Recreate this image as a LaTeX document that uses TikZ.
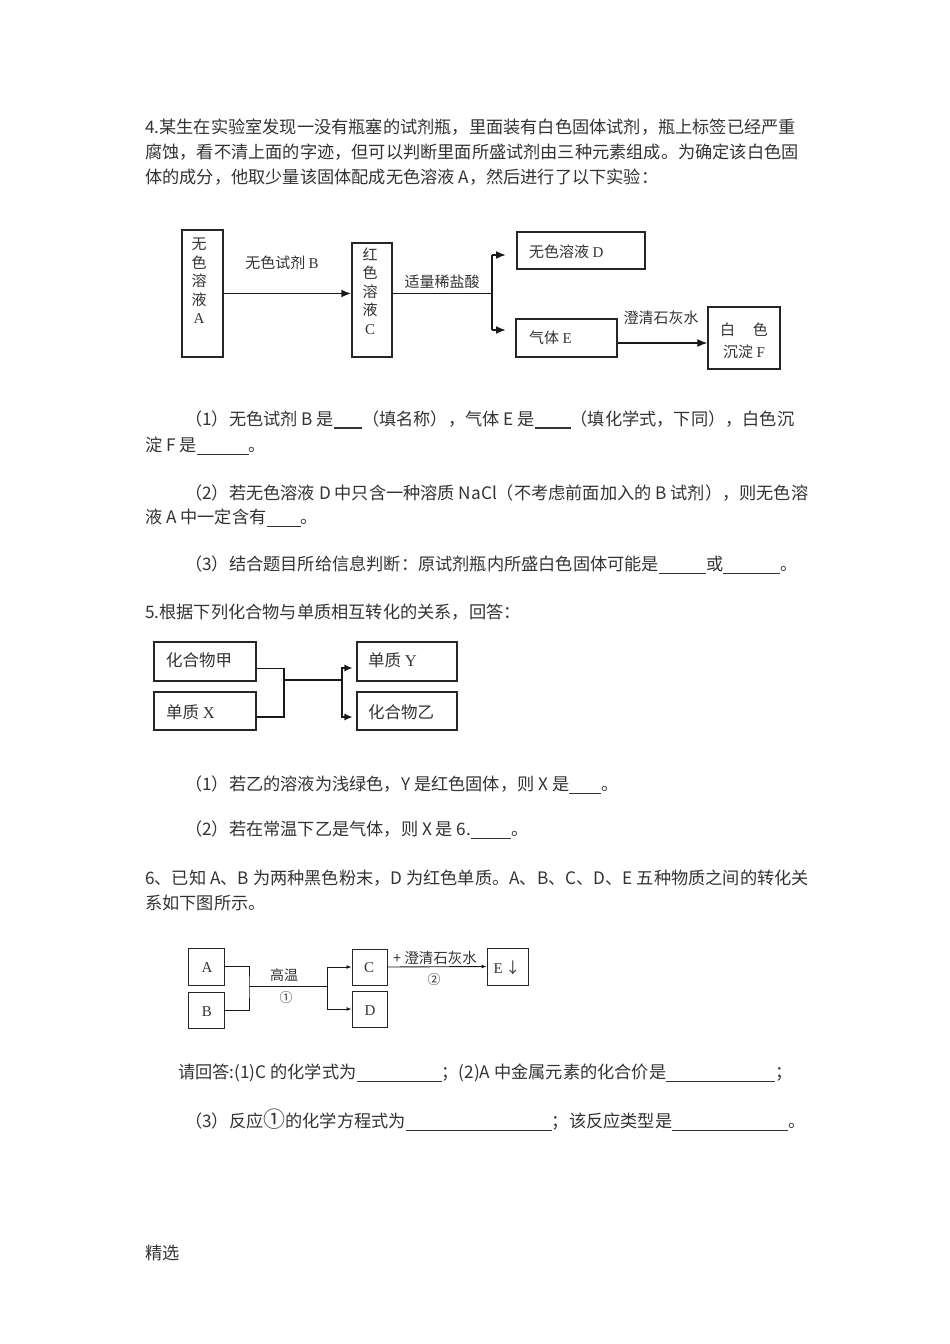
\documentclass[tikz,border=0pt]{standalone}
\usepackage{fontspec}
\setmainfont{Noto Sans CJK SC}
\newfontfamily\latf{Liberation Serif}
\usetikzlibrary{arrows.meta}

\newcommand{\bodyfont}{\fontsize{17.2}{20}\selectfont}
\newcommand{\figfont}{\fontsize{15}{18.5}\selectfont}
\newcommand{\blank}[1]{\rule[-3pt]{#1pt}{0.8pt}}
\newcommand{\bblank}[1]{\rule[-3pt]{#1pt}{1.8pt}}

\tikzset{
  txt/.style={anchor=west, inner sep=0pt, font=\bodyfont, text=black!80},
  dtxt/.style={inner sep=0pt, font=\figfont, text=black!80, align=center},
  box/.style={draw=black!85, inner sep=0pt},
  lnA/.style={draw=black!90, line width=1.8pt},
  arrA/.style={lnA, -{Latex[length=10pt,width=8pt]}},
  lnB/.style={draw=black!90, line width=1.2pt},
  arrB/.style={lnB, -{Latex[length=8pt,width=7pt]}},
  lnC/.style={draw=black!90, line width=0.9pt},
  arrC/.style={lnC, -{Latex[length=5pt,width=4pt]}}
}

\begin{document}
\begin{tikzpicture}[x=1pt,y=1pt,yscale=-1,xscale=1]
\fill[white] (0,0) rectangle (950,1344);
\path[use as bounding box] (0,0) rectangle (950,1344);

%Text: question 4
\node[txt] (q4a) at (145,127) {4.某生在实验室发现一没有瓶塞的试剂瓶，里面装有白色固体试剂，瓶上标签已经严重};
\node[txt] (q4b) at (145,152) {腐蚀，看不清上面的字迹，但可以判断里面所盛试剂由三种元素组成。为确定该白色固};
\node[txt] (q4c) at (145,177) {体的成分，他取少量该固体配成无色溶液 A，然后进行了以下实验：};

%Shape: Rectangle, solutions A and C
\node[box, line width=1.5pt, minimum width=41pt, minimum height=127pt] (bA) at (202.5,293.5) {};
\node[dtxt] (tA) at (199,281) {无\\色\\溶\\液\\{\latf A}};
\node[box, line width=1.5pt, minimum width=40pt, minimum height=114pt] (bC) at (372,300) {};
\node[dtxt] (tC) at (370,291) {红\\色\\溶\\液\\{\latf C}};
%Shape: Rectangle, D, E and F
\node[box, line width=1.8pt, minimum width=128pt, minimum height=37pt] (bD) at (581,250.5) {};
\node[dtxt, anchor=west] (tD) at (529,252) {无色溶液 {\latf D}};
\node[box, line width=1.4pt, minimum width=101pt, minimum height=38pt] (bE) at (566.5,338) {};
\node[dtxt, anchor=west] (tE) at (529,338) {气体 {\latf E}};
\node[box, line width=1.4pt, minimum width=72pt, minimum height=62pt] (bF) at (744,338) {};
\node[dtxt] (tF) at (744,341) {白\hspace{1.2em}色\\[4pt]沉淀 {\latf F}};

%Straight Lines
\coordinate (jn1) at (492,293.5);
\coordinate (tipD) at (506,255);
\coordinate (tipE) at (506,330);
\draw[arrA] (bA.east) -- (bA.east -| bC.west);
\draw[lnA] (bC.east |- bA.east) -- (jn1);
\draw[lnA] (jn1 |- tipD) -- (jn1 |- tipE);
\draw[arrA] (jn1 |- tipD) -- (tipD);
\draw[arrA] (jn1 |- tipE) -- (tipE);
\draw[arrA, line width=1.2pt] ([yshift=5pt]bE.east) -- ([yshift=5pt]bE.east -| bF.west);
\node[dtxt] (lB) at (282,263) {无色试剂 {\latf B}};
\node[dtxt] (lHCl) at (442,282) {适量稀盐酸};
\node[dtxt] (lCa) at (661,318) {澄清石灰水};

%Text: parts of question 4
\node[txt] (q41a) at (185,420) {（1）无色试剂 B 是\bblank{28}（填名称），气体 E 是\bblank{36}（填化学式，下同），白色沉};
\node[txt] (q41b) at (145,446) {淀 F 是\blank{52}。};
\node[txt] (q42a) at (185,493) {（2）若无色溶液 D 中只含一种溶质 NaCl（不考虑前面加入的 B 试剂），则无色溶};
\node[txt] (q42b) at (145,518) {液 A 中一定含有\blank{34}。};
\node[txt] (q43) at (185,565) {（3）结合题目所给信息判断：原试剂瓶内所盛白色固体可能是\blank{47}或\blank{57}。};

%Text: question 5
\node[txt] (q5) at (145,612) {5.根据下列化合物与单质相互转化的关系，回答：};

%Shape: Rectangle, compounds and elements
\node[box, line width=1.1pt, minimum width=102pt, minimum height=39pt] (bJia) at (205,661.5) {};
\node[dtxt, anchor=west, font=\fontsize{16.5}{20}\selectfont] (tJia) at (166,660) {化合物甲};
\node[box, line width=1.1pt, minimum width=102pt, minimum height=38pt] (bX) at (205,711) {};
\node[dtxt, anchor=west, font=\fontsize{16.5}{20}\selectfont] (tX) at (166,712) {单质 {\latf X}};
\node[box, line width=1.1pt, minimum width=100pt, minimum height=39pt] (bY) at (407,661.5) {};
\node[dtxt, anchor=west, font=\fontsize{16.5}{20}\selectfont] (tY) at (368,660) {单质 {\latf Y}};
\node[box, line width=1.1pt, minimum width=100pt, minimum height=38pt] (bYi) at (407,711) {};
\node[dtxt, anchor=west, font=\fontsize{16.5}{20}\selectfont] (tYi) at (368,712) {化合物乙};

%Straight Lines
\coordinate (jn2) at (284,680);
\coordinate (jn3) at (342,680);
\draw[lnB] ([yshift=7pt]bJia.east) -| (jn2) |- ([yshift=6pt]bX.east);
\draw[lnB] (jn2) -- (jn3);
\draw[arrB] (jn3) |- ([xshift=-4pt,yshift=6.5pt]bY.west);
\draw[arrB] (jn3) |- ([xshift=-4pt,yshift=6pt]bYi.west);

%Text: parts of question 5
\node[txt] (q51) at (185,785) {（1）若乙的溶液为浅绿色，Y 是红色固体，则 X 是\blank{32}。};
\node[txt] (q52) at (185,830) {（2）若在常温下乙是气体，则 X 是 6.\blank{40}。};

%Text: question 6
\node[txt] (q6a) at (145,878) {6、已知 A、B 为两种黑色粉末，D 为红色单质。A、B、C、D、E 五种物质之间的转化关};
\node[txt] (q6b) at (145,903) {系如下图所示。};

%Shape: Rectangle, A to E
\node[box, line width=0.9pt, minimum width=36pt, minimum height=37pt] (bA3) at (206,966.5) {};
\node[dtxt] (tA3) at (207,968) {\latf A};
\node[box, line width=0.9pt, minimum width=36pt, minimum height=36pt] (bB3) at (206,1010) {};
\node[dtxt] (tB3) at (207,1012) {\latf B};
\node[box, line width=0.9pt, minimum width=35pt, minimum height=36pt] (bC3) at (369.5,967) {};
\node[dtxt] (tC3) at (369,968) {\latf C};
\node[box, line width=0.9pt, minimum width=35pt, minimum height=36pt] (bD3) at (369.5,1009) {};
\node[dtxt] (tD3) at (370,1011) {\latf D};
\node[box, line width=0.9pt, minimum width=41pt, minimum height=37pt] (bE3) at (507.5,966.5) {};
\node[dtxt] (tE3) at (507,968) {{\latf E}\,↓};

%Straight Lines
\coordinate (jn4) at (249,986);
\coordinate (jn5) at (327,986);
\draw[lnC] (bA3.east) -| (jn4) |- (bB3.east);
\draw[lnC] (jn4) -- (jn5);
\draw[arrC] (jn5) |- (bC3.west);
\draw[arrC] (jn5) |- (bD3.west);
\draw[arrC] (bC3.east) -- (bE3.west);
\node[dtxt, font=\fontsize{14}{16}\selectfont] (lHot) at (284,975) {高温};
\node[dtxt, font=\fontsize{13}{16}\selectfont] (lR1) at (286,998) {①};
\node[dtxt, font=\fontsize{14.5}{16}\selectfont] (lLime) at (435,958) {+ 澄清石灰水};
\node[dtxt, font=\fontsize{13}{16}\selectfont] (lR2) at (434,980) {②};

%Text: parts of question 6
\node[txt] (q61) at (178,1073) {请回答:(1)C 的化学式为\blank{85}；(2)A 中金属元素的化合价是\blank{109}；};
\node[txt] (q62) at (185,1120) {（3）反应{\fontsize{22}{22}\selectfont ①}的化学方程式为\blank{146}；该反应类型是\blank{116}。};

%Text: footer
\node[txt] (foot) at (145,1253) {精选};

\end{tikzpicture}
\end{document}
